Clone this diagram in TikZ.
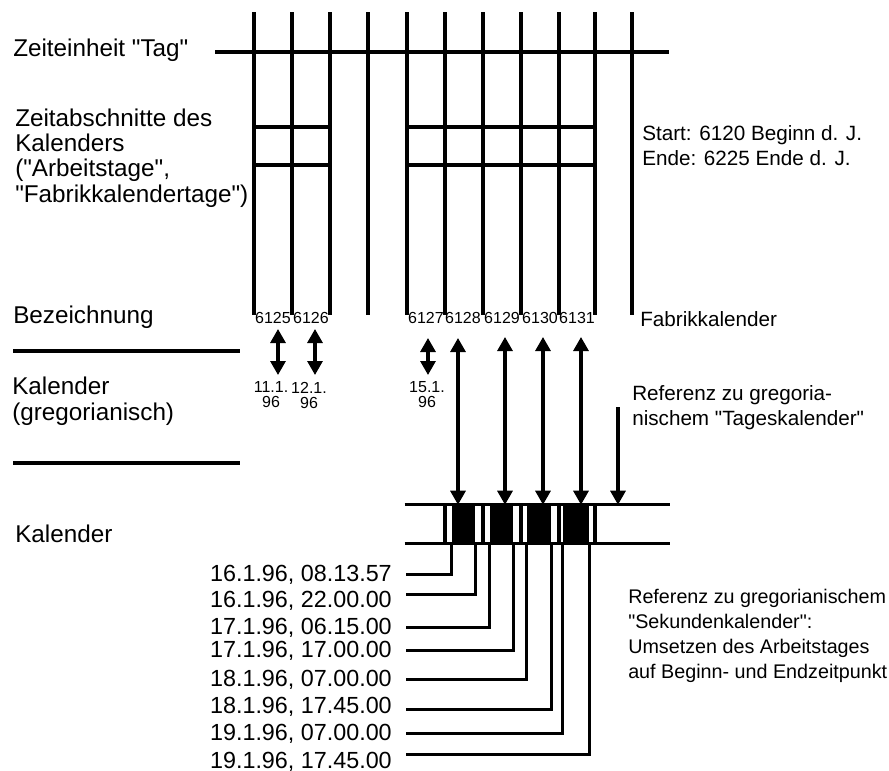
\documentclass[tikz,border=0pt]{standalone}
\usepackage{fontspec}
\setmainfont{Liberation Sans}
\usetikzlibrary{arrows.meta}

\begin{document}
\begin{tikzpicture}[x=0.75pt, y=-0.75pt,
    linie/.style={line width=2.3pt},
    beschr/.style={anchor=base west, inner sep=0pt, align=left, font=\fontsize{18.2}{19}\selectfont},
    notiz/.style={anchor=base west, inner sep=0pt, align=left, font=\fontsize{15.5}{18.3}\selectfont},
    nummer/.style={anchor=base, inner sep=0pt, font=\fontsize{12}{12}\selectfont},
    gdatum/.style={anchor=north, inner xsep=0pt, inner ysep=5pt, align=center, font=\fontsize{12}{11.25}\selectfont},
    zeit/.style={anchor=base east, inner xsep=10.5pt, inner ysep=0pt, font=\fontsize{17.5}{19}\selectfont},
    block/.style={fill=black, inner sep=0pt, minimum height=28.5pt},
    dpfeil/.style={{Triangle[width=11.25pt,length=10.5pt]}-{Triangle[width=11.25pt,length=10.5pt]}, line width=2.3pt},
    pfeil/.style={-{Triangle[width=11.25pt,length=10.5pt]}, line width=2.3pt}
]
    \useasboundingbox (0,0) rectangle (889,771);

    % Zeilenbeschriftung links
    \node[beschr] (zeh) at (13,56) {Zeiteinheit \textquotedbl Tag\textquotedbl};
    \node[beschr] (zab) at (15,202) {Zeitabschnitte des\\Kalenders\\(\textquotedbl Arbeitstage\textquotedbl,\\\textquotedbl Fabrikkalendertage\textquotedbl)};
    \node[beschr] (bez) at (13,323) {Bezeichnung};
    \node[beschr] (kgr) at (12,420) {Kalender\\(gregorianisch)};
    \node[beschr] (kal0) at (15,542) {Kalender};

    % Raster der Tage
    \foreach \x in {254,292,330,368,407,445,483,521,559,595,632}
        \draw[linie] (\x,12) -- (\x,315);
    \draw[linie] (215,52) -- (669,52);
    \draw[linie] (254,127) -- (330,127);
    \draw[linie] (254,165) -- (330,165);
    \draw[linie] (407,127) -- (595,127);
    \draw[linie] (407,165) -- (595,165);
    \draw[linie] (13,351) -- (240,351);
    \draw[linie] (13,463) -- (240,463);

    % Notizen rechts
    \node[notiz] (start) at (642,165) {Start: 6120 Beginn d. J.\\Ende: 6225 Ende d. J.};
    \node[notiz] (fabk) at (640,326) {Fabrikkalender};
    \node[notiz] (reft) at (632,425) {Referenz zu gregoria-\\nischem \textquotedbl Tageskalender\textquotedbl};
    \node[notiz, font=\fontsize{14.8}{18.75}\selectfont] (refs) at (628,678) {Referenz zu gregorianischem\\\textquotedbl Sekundenkalender\textquotedbl:\\Umsetzen des Arbeitstages\\auf Beginn- und Endzeitpunkt};

    % Fabrikkalendertage
    \node[nummer] (n1) at (273,323) {6125};
    \node[nummer] (n2) at (311,323) {6126};
    \node[nummer] (n3) at (426,323) {6127};
    \node[nummer] (n4) at (463,323) {6128};
    \node[nummer] (n5) at (502,323) {6129};
    \node[nummer] (n6) at (540,323) {6130};
    \node[nummer] (n7) at (577,323) {6131};

    \node[gdatum] (g1) at (271,375) {11.1.\\96};
    \node[gdatum] (g2) at (309,375) {12.1.\\96};
    \node[gdatum] (g3) at (427,375) {15.1.\\96};

    \coordinate (p1) at (278,329);
    \coordinate (p2) at (315,329);
    \coordinate (p3) at (428,338);
    \coordinate (p4) at (458,338);
    \coordinate (p5) at (505,337);
    \coordinate (p6) at (543,337);
    \coordinate (p7) at (581,337);
    \coordinate (p8) at (618,407);

    % Sekundenkalender
    \node[inner sep=0pt, minimum width=198.75pt, minimum height=28.5pt] (kal) at (537.5,524) {};
    \draw[linie] (kal.north west) -- (kal.north east);
    \draw[linie] (kal.south west) -- (kal.south east);
    \foreach \x in {445,483,521,559,595}
        \draw[linie] (\x,505) -- (\x,543);
    \node[block, minimum width=17.25pt] (k1) at (463.5,524) {};
    \node[block, minimum width=17.25pt] (k2) at (501.5,524) {};
    \node[block, minimum width=18pt] (k3) at (539,524) {};
    \node[block, minimum width=19.5pt] (k4) at (576,524) {};

    \draw[dpfeil] (p1) -- (p1 |- g1.north);
    \draw[dpfeil] (p2) -- (p2 |- g2.north);
    \draw[dpfeil] (p3) -- (p3 |- g3.north);
    \draw[dpfeil] (p4) -- (p4 |- kal.north);
    \draw[dpfeil] (p5) -- (p5 |- kal.north);
    \draw[dpfeil] (p6) -- (p6 |- kal.north);
    \draw[dpfeil] (p7) -- (p7 |- kal.north);
    \draw[pfeil] (p8) -- (p8 |- kal.north);

    % Beginn- und Endzeitpunkte
    \node[zeit] (t1) at (406,581) {16.1.96, 08.13.57};
    \node[zeit] (t2) at (406,607) {16.1.96, 22.00.00};
    \node[zeit] (t3) at (406,634) {17.1.96, 06.15.00};
    \node[zeit] (t4) at (406,657) {17.1.96, 17.00.00};
    \node[zeit] (t5) at (406,686) {18.1.96, 07.00.00};
    \node[zeit] (t6) at (406,713) {18.1.96, 17.45.00};
    \node[zeit] (t7) at (406,740) {19.1.96, 07.00.00};
    \node[zeit] (t8) at (406,768) {19.1.96, 17.45.00};

    \draw[linie] (k1.south west) |- (t1.east);
    \draw[linie] (k1.south east) |- ([yshift=4.5pt]t2.east);
    \draw[linie] (k2.south west) |- (t3.east);
    \draw[linie] (k2.south east) |- (t4.east);
    \draw[linie] (k3.south west) |- (t5.east);
    \draw[linie] (k3.south east) |- ([yshift=-2.25pt]t6.east);
    \draw[linie] (k4.south west) |- (t7.east);
    \draw[linie] (k4.south east) |- ([yshift=5.25pt]t8.east);
\end{tikzpicture}
\end{document}
